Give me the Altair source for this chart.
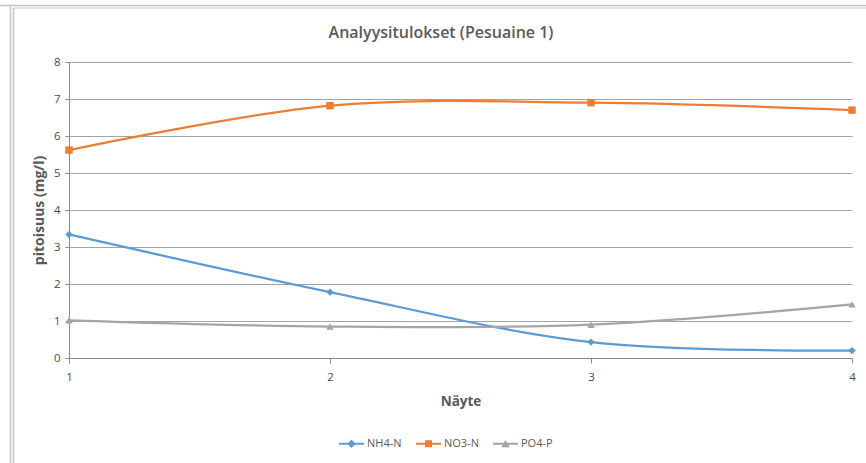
import altair as alt
import pandas as pd

# Sample number on the x axis and measured concentrations (mg/l)
nayte = [1, 2, 3, 4]
nh4_n = [3.34, 1.78, 0.43, 0.20]
no3_n = [5.62, 6.82, 6.90, 6.70]
po4_p = [1.02, 0.85, 0.90, 1.45]

sarjat = ["NH4-N", "NO3-N", "PO4-P"]
varit = ["#5B9BD5", "#ED7D31", "#A5A5A5"]
merkit = ["diamond", "square", "triangle-up"]
y_ticks = [0, 1, 2, 3, 4, 5, 6, 7, 8]
otsikko = "Analyysitulokset (Pesuaine 1)"

# Legend glyphs: a short line with the series marker on top of it
legend_glyphs = [
    "M-1,-0.08H1V0.08H-1Z M0,-0.34L0.34,0L0,0.34L-0.34,0Z",
    "M-1,-0.08H1V0.08H-1Z M-0.28,-0.28H0.28V0.28H-0.28Z",
    "M-1,-0.08H1V0.08H-1Z M0,-0.3L0.34,0.28H-0.34Z",
]

rows = []
for name, vals in zip(sarjat, [nh4_n, no3_n, po4_p]):
    for x, v in zip(nayte, vals):
        rows.append({"nayte": x, "pitoisuus": v, "sarja": name})
df = pd.DataFrame(rows)

FONT = "Open Sans"
TXT = "#595959"
LBL = "#4a4a4a"
AXIS_C = "#8a8a8a"
GRID_C = "#a3a3a3"

x_scale = alt.Scale(domain=[1, 4], nice=False, zero=False)
y_scale = alt.Scale(domain=[0, 8], nice=False)

x_axis = alt.Axis(
    values=nayte, format="d", title="Näyte", grid=False, labelFlush=False,
    domainColor=AXIS_C, tickColor=AXIS_C, tickSize=5,
    labelFont=FONT, labelFontSize=11.5, labelColor=LBL, labelPadding=8,
    titleFont=FONT, titleFontSize=13.5, titleFontWeight="bold",
    titleColor=TXT, titlePadding=12,
)
y_axis = alt.Axis(
    values=y_ticks, title="pitoisuus (mg/l)", grid=True, labelFlush=False,
    gridColor=GRID_C, domainColor=AXIS_C, tickColor=AXIS_C, tickSize=4,
    labelFont=FONT, labelFontSize=11.5, labelColor=LBL, labelPadding=5,
    titleFont=FONT, titleFontSize=14, titleFontWeight="bold",
    titleColor=TXT, titlePadding=7,
)

X = alt.X("nayte:Q", scale=x_scale, axis=x_axis)
Y = alt.Y("pitoisuus:Q", scale=y_scale, axis=y_axis)

color_plain = alt.Color("sarja:N", scale=alt.Scale(domain=sarjat, range=varit), legend=None)

lines = alt.Chart(df).mark_line(interpolate="cardinal", strokeWidth=2.25).encode(
    x=X, y=Y, color=color_plain, detail="sarja:N",
)

points = alt.Chart(df).mark_point(filled=True, size=55, opacity=1).encode(
    x=X, y=Y, color=color_plain,
    shape=alt.Shape("sarja:N", scale=alt.Scale(domain=sarjat, range=merkit), legend=None),
)

legend_def = alt.Legend(
    title=None, orient="none", direction="horizontal",
    legendX=270, legendY=369,
    symbolSize=625, symbolStrokeWidth=0, symbolOpacity=1,
    labelFont=FONT, labelFontSize=11, labelColor=TXT,
    labelOffset=3, columnPadding=14,
)

# Transparent layer that only carries the legend
legend_layer = alt.Chart(df).mark_point(filled=True, size=625, opacity=0).encode(
    x=X, y=Y,
    color=alt.Color("sarja:N", scale=alt.Scale(domain=sarjat, range=varit), legend=legend_def),
    shape=alt.Shape("sarja:N", scale=alt.Scale(domain=sarjat, range=legend_glyphs), legend=legend_def),
)

deco = alt.Chart(pd.DataFrame({"k": [0]}))

title = deco.mark_text(
    text=otsikko, font=FONT, fontSize=16, fontWeight=600, color=TXT,
    align="center", baseline="alphabetic",
).encode(x=alt.value(372), y=alt.value(-24))

# Grey frame lines along the top and left edge of the sheet
FRAME_C = "#c4c4c4"
frame = alt.layer(
    deco.mark_rule(color=FRAME_C, strokeWidth=1.5).encode(
        x=alt.value(-69), x2=alt.value(797), y=alt.value(-56.5), y2=alt.value(-56.5)),
    deco.mark_rule(color=FRAME_C, strokeWidth=1).encode(
        x=alt.value(-55), x2=alt.value(797), y=alt.value(-54), y2=alt.value(-54)),
    deco.mark_rule(color=FRAME_C, strokeWidth=1.5).encode(
        x=alt.value(-58.5), x2=alt.value(-58.5), y=alt.value(-57), y2=alt.value(401)),
    deco.mark_rule(color=FRAME_C, strokeWidth=1.5).encode(
        x=alt.value(-55.5), x2=alt.value(-55.5), y=alt.value(-54), y2=alt.value(401)),
)

chart = alt.layer(lines, points, legend_layer, title, frame).resolve_scale(
    color="independent", shape="independent"
).properties(
    width=783,
    height=296,
    padding={"left": 69, "top": 62, "right": 14, "bottom": 105},
    autosize=alt.AutoSizeParams(type="none"),
    background="white",
).configure_view(stroke=None)

chart.save("out.html", embed_options={"renderer": "svg", "actions": False})
